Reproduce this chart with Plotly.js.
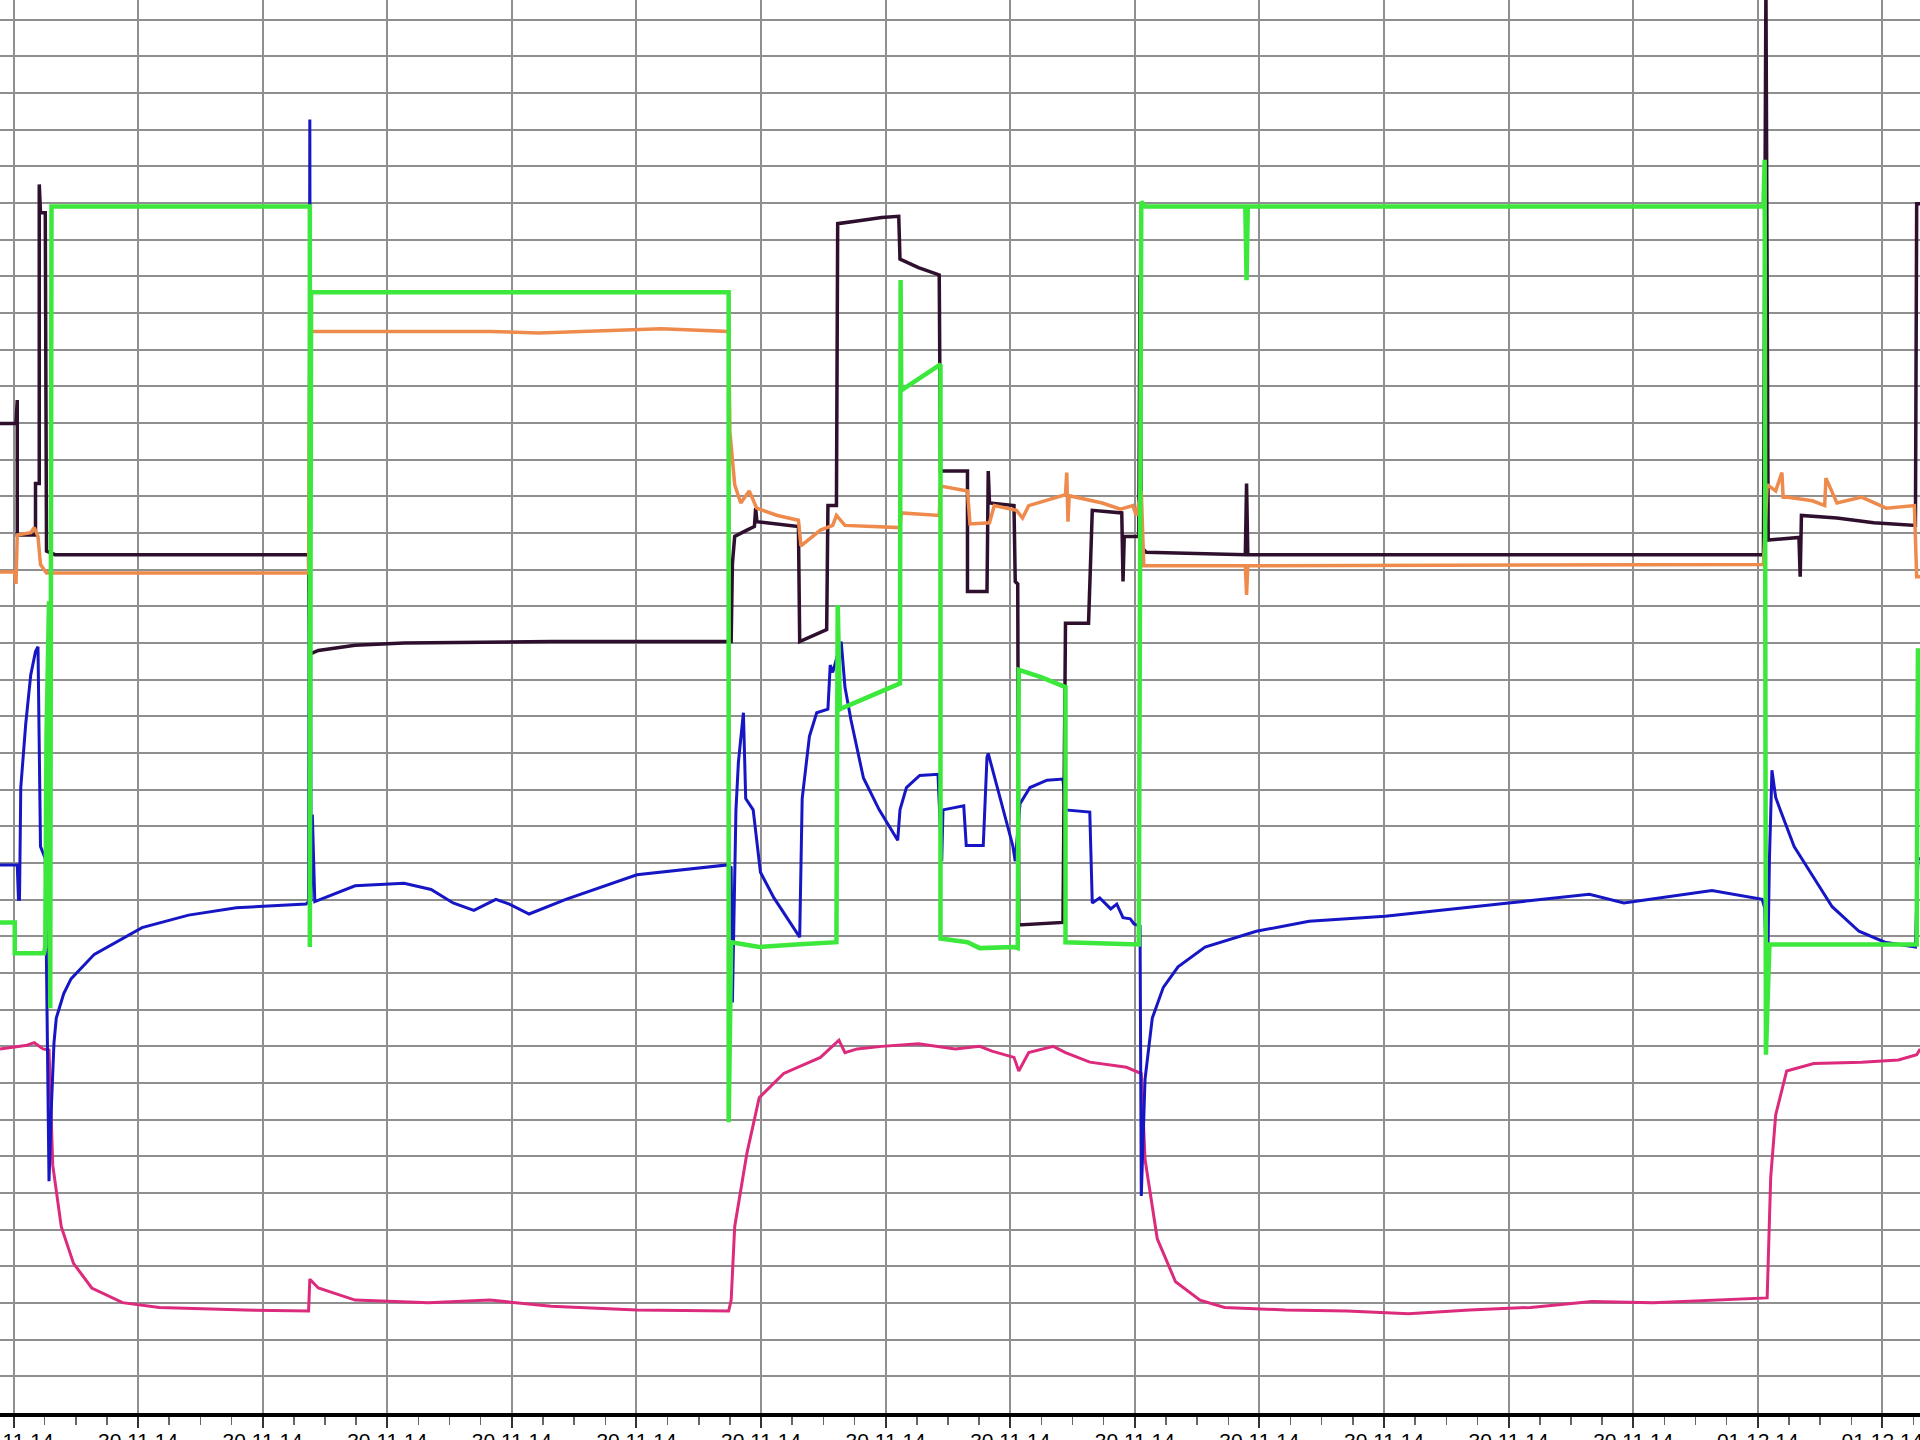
<!DOCTYPE html>
<html>
<head>
<meta charset="utf-8">
<script src="https://cdn.plot.ly/plotly-3.0.1.min.js"></script>
<style>
  html, body { margin: 0; padding: 0; background: #ffffff; }
  #chart { width: 1920px; height: 1440px; }
</style>
</head>
<body>
<div id="chart"></div>
<script>
// Time axis: minutes after 30.11.14 10:00 ; values in logger units (grid step = 10)
const tickMinutes = [0, 60, 120, 180, 240, 300, 360, 420, 480, 540, 600, 660, 720, 780, 840, 900];
const tickLabels = ['30.11.14', '30.11.14', '30.11.14', '30.11.14', '30.11.14', '30.11.14', '30.11.14', '30.11.14',
                    '30.11.14', '30.11.14', '30.11.14', '30.11.14', '30.11.14', '30.11.14', '01.12.14', '01.12.14'];

// Pink channel
const pinkT = [-6.5, 6.5, 10.0, 14.2, 17.1, 18.9, 23.0, 28.9, 37.7, 52.5, 70.2, 111.5, 142.1, 142.7, 146.8, 164.5, 199.9, 229.4, 258.9, 300.2, 344.4,
  345.6, 347.3, 353.2, 359.1, 370.9, 388.6, 394.5, 397.5, 400.4, 406.3, 418.1, 435.8, 453.5, 465.3, 471.2, 481.8, 484.1, 488.9, 500.7, 506.6, 518.3, 536.0, 543.1,
  544.9, 550.8, 559.6, 571.4, 583.2, 612.7, 642.2, 671.7, 701.2, 730.6, 760.1, 789.6, 819.1, 842.7,
  844.5, 846.2, 848.6, 853.9, 866.9, 890.0, 907.7, 916.5, 918.2];
const pinkV = [99.3, 100.3, 101.0, 99.3, 99.0, 67.6, 50.8, 40.8, 34.1, 30.1, 28.8, 28.1, 27.8, 36.5, 34.1, 30.8, 30.1, 30.8, 29.1, 28.1, 27.8,
  30.8, 50.8, 70.9, 86.0, 92.6, 97.0, 100.3, 101.7, 98.3, 99.3, 100.0, 100.7, 99.3, 100.0, 98.7, 97.0, 93.3, 98.3, 100.0, 98.3, 95.7, 94.3, 92.6,
  69.2, 47.5, 35.8, 30.8, 28.8, 28.1, 27.8, 27.1, 28.1, 28.8, 30.4, 30.1, 30.8, 31.4,
  31.4, 64.2, 81.3, 93.3, 95.3, 95.7, 96.3, 97.7, 99.3];

// Blue channel
const blueT = [-6.5, 1.8, 2.4, 2.9, 3.5, 5.9, 8.3, 10.6, 11.8, 13.0, 15.3, 16.5, 17.1, 18.3, 19.5, 20.6, 24.2, 27.7, 38.9, 61.9, 84.3, 107.3, 140.9,
  142.1, 142.7, 143.3, 143.9, 145.1, 164.5, 188.1, 201.1, 211.7, 221.7, 232.3, 238.8, 248.3, 266.0, 300.2, 343.8,
  345.6, 346.2, 347.9, 349.1, 351.5, 352.6, 356.2, 359.7, 366.2, 378.6, 379.8, 383.3, 386.8, 392.2, 393.3, 394.5, 398.6, 400.4, 403.3, 409.3, 416.9, 425.8,
  426.9, 430.0, 436.4, 445.2, 447.0, 447.6, 457.6, 458.8, 467.0, 468.8, 469.4, 481.2, 482.4, 484.7, 489.5, 497.7, 505.4, 506.6, 518.3, 519.5, 523.1, 528.4,
  531.3, 534.3, 537.8, 539.6, 542.5, 543.1, 544.9, 548.4, 553.7, 560.8, 573.8, 598.5, 623.9, 660.5, 720.0, 742.4, 758.9, 775.5, 817.9, 842.1,
  843.3, 844.5, 845.6, 846.8, 848.6, 851.0, 857.5, 863.4, 875.8, 888.7, 901.2, 915.9, 917.1, 918.2];
const blueV = [149.5, 149.5, 140.1, 140.1, 170.6, 188.0, 201.3, 207.7, 209.0, 154.5, 151.2, 100.7, 63.2, 84.3, 101.0, 107.7, 114.4, 118.4, 125.1, 132.4, 135.8, 137.8, 138.8,
  139.5, 352.8, 139.5, 163.2, 139.5, 143.8, 144.5, 142.8, 139.1, 137.1, 140.1, 138.8, 136.1, 140.1, 146.8, 149.5,
  148.8, 112.0, 164.5, 177.6, 191.0, 167.6, 164.5, 147.5, 140.5, 129.8, 167.6, 184.6, 191.0, 192.0, 204.0, 202.0, 210.4, 198.0, 189.0, 173.2, 164.5, 156.2,
  164.5, 170.6, 173.9, 174.2, 150.5, 164.5, 165.6, 154.8, 154.8, 178.9, 179.9, 154.8, 150.5, 166.2, 170.6, 172.6, 172.9, 164.5, 163.9, 139.1, 140.5, 137.5,
  138.8, 135.1, 134.8, 133.4, 132.8, 59.2, 91.0, 107.7, 116.1, 121.7, 127.1, 131.4, 134.1, 135.5, 139.1, 140.5, 141.5, 139.1, 142.5, 140.1,
  137.8, 112.7, 151.2, 175.3, 167.9, 164.2, 154.5, 149.2, 138.1, 131.4, 128.4, 127.1, 151.2, 151.2];

// Dark (purple-black) channel
const darkT = [-6.5, 1.2, 1.8, 1.8, 10.6, 10.6, 12.4, 12.4, 13.0, 15.3, 15.9, 20.0, 140.9, 142.1, 142.7, 146.8, 164.5, 188.1, 258.9, 344.4,
  345.6, 346.2, 347.3, 353.2, 356.8, 357.4, 358.0, 378.0, 378.6, 391.6, 392.2, 396.3, 396.9, 406.3, 418.1, 426.3, 426.9, 435.8, 445.8,
  446.4, 459.4, 459.4, 468.8, 469.4, 470.0, 481.8, 482.4, 483.6, 484.1, 505.4, 506.6, 517.7, 519.5, 533.7, 534.3, 534.9, 541.9, 542.5, 543.1,
  545.5, 593.2, 593.8, 594.4, 842.7, 843.9, 845.0, 859.8, 860.4, 861.0, 878.1, 895.8, 915.9, 916.5, 918.2];
const darkV = [269.9, 269.9, 276.3, 239.5, 239.5, 253.5, 253.5, 335.1, 327.4, 327.4, 235.1, 234.1, 234.1, 234.1, 207.0, 208.0, 209.4, 210.0, 210.4, 210.4,
  210.4, 231.7, 239.1, 240.8, 241.8, 246.8, 243.1, 241.8, 210.4, 213.7, 247.5, 247.5, 324.4, 325.1, 326.1, 326.4, 314.7, 312.4, 310.4,
  256.9, 256.9, 224.1, 224.1, 256.9, 248.2, 247.5, 226.8, 226.1, 133.1, 133.8, 215.4, 215.4, 246.2, 245.5, 226.8, 239.1, 239.1, 310.4, 236.1,
  234.8, 234.1, 253.5, 234.1, 234.1, 390.0, 238.1, 238.8, 228.1, 244.8, 244.1, 242.8, 242.1, 329.8, 329.8];

// Orange channel
const orangeT = [-6.5, 0.6, 1.2, 1.8, 8.3, 10.0, 11.8, 13.0, 15.9, 140.9, 142.1, 142.7, 229.4, 252.9, 311.9, 344.4,
  345.0, 347.3, 350.2, 354.3, 357.9, 367.9, 378.0, 379.2, 382.7, 388.6, 394.5, 396.3, 400.4, 426.9, 427.5, 445.8,
  446.4, 459.4, 460.6, 470.0, 472.3, 483.0, 485.9, 488.9, 506.6, 507.2, 507.8, 508.4, 524.3, 533.1, 539.0, 540.7, 543.1,
  544.3, 593.2, 593.8, 594.4, 842.7, 844.5, 848.6, 851.6, 852.2, 854.5, 866.3, 872.2, 872.8, 878.1, 890.0, 901.8, 915.4, 916.5, 918.2];
const orangeV = [229.4, 229.4, 226.1, 239.5, 240.1, 241.5, 239.1, 231.4, 229.1, 229.1, 229.1, 295.0, 295.0, 294.6, 295.7, 295.0,
  267.6, 253.2, 248.2, 251.5, 246.8, 244.8, 243.5, 236.5, 238.1, 240.8, 242.1, 244.8, 242.1, 241.5, 245.5, 244.8,
  252.8, 251.5, 242.5, 242.8, 247.5, 246.2, 244.1, 247.5, 250.5, 256.5, 243.1, 250.2, 248.2, 246.5, 247.5, 244.8, 251.5,
  231.1, 231.1, 223.1, 231.1, 231.4, 253.2, 251.5, 256.5, 249.8, 249.8, 248.8, 247.5, 255.0, 248.2, 249.8, 246.8, 247.5, 228.1, 228.1];

// Green channel
const greenT = [-6.5, 0.6, 0.6, 14.7, 15.3, 15.9, 17.1, 17.7, 18.3, 140.9, 142.1, 142.7, 142.7, 143.3, 344.4, 344.4,
  345.6, 359.1, 376.8, 396.3, 396.9, 398.0, 426.9, 427.2, 427.5, 446.4, 446.4, 459.4, 465.3, 481.8, 483.6, 484.1, 494.8, 506.6,
  506.6, 541.9, 543.1, 544.9, 593.2, 593.8, 594.4, 842.7, 843.3, 843.9, 845.6, 916.5, 917.1, 918.2];
const greenV = [133.8, 133.8, 125.4, 125.4, 127.1, 184.6, 221.4, 110.4, 329.1, 329.1, 329.1, 329.1, 127.1, 305.7, 305.7, 79.3,
  128.4, 127.1, 127.8, 128.4, 220.4, 192.0, 199.0, 309.0, 278.9, 286.0, 129.4, 128.4, 126.8, 127.1, 126.8, 202.7, 200.7, 198.0,
  128.4, 127.8, 330.4, 329.1, 329.1, 309.0, 329.1, 329.1, 341.8, 97.7, 127.8, 127.8, 208.0, 208.0];

const series = [
  {t: pinkT, v: pinkV, color: '#dc2a7c', width: 3},
  {t: blueT, v: blueV, color: '#1616c4', width: 3},
  {t: darkT, v: darkV, color: '#2e102e', width: 3.5},
  {t: orangeT, v: orangeV, color: '#ee8a4c', width: 3.5},
  {t: greenT, v: greenV, color: '#3be83b', width: 4.5}
];

const traces = series.map(s => ({
  x: s.t, y: s.v, type: 'scatter', mode: 'lines',
  line: {color: s.color, width: s.width, shape: 'linear'},
  hoverinfo: 'skip', showlegend: false
}));

const layout = {
  width: 1920, height: 1440,
  margin: {l: 0, r: 0, t: 0, b: 27, pad: 0},
  paper_bgcolor: '#ffffff', plot_bgcolor: '#ffffff',
  showlegend: false,
  xaxis: {
    range: [-6.5, 918.1], fixedrange: true,
    tickmode: 'array', tickvals: tickMinutes, ticktext: tickLabels,
    showgrid: true, gridcolor: '#8f8f8f', gridwidth: 2,
    zeroline: false,
    showline: true, linecolor: '#000000', linewidth: 4,
    ticks: 'outside', ticklen: 11, tickwidth: 2, tickcolor: '#333333',
    ticklabeloverflow: 'allow',
    ticklabelstandoff: -5,
    tickfont: {family: 'Liberation Sans, Arial, sans-serif', size: 21, color: '#000000'},
    minor: {tick0: 0, dtick: 15, ticks: 'outside', ticklen: 8, tickwidth: 1.5, tickcolor: '#666666', showgrid: false}
  },
  yaxis: {
    range: [0, 385.4], fixedrange: true,
    tick0: 0, dtick: 10,
    showgrid: true, gridcolor: '#8f8f8f', gridwidth: 2,
    zeroline: false, showline: false, showticklabels: false, ticks: ''
  }
};

Plotly.newPlot('chart', traces, layout, {staticPlot: true, displayModeBar: false});
</script>
</body>
</html>
